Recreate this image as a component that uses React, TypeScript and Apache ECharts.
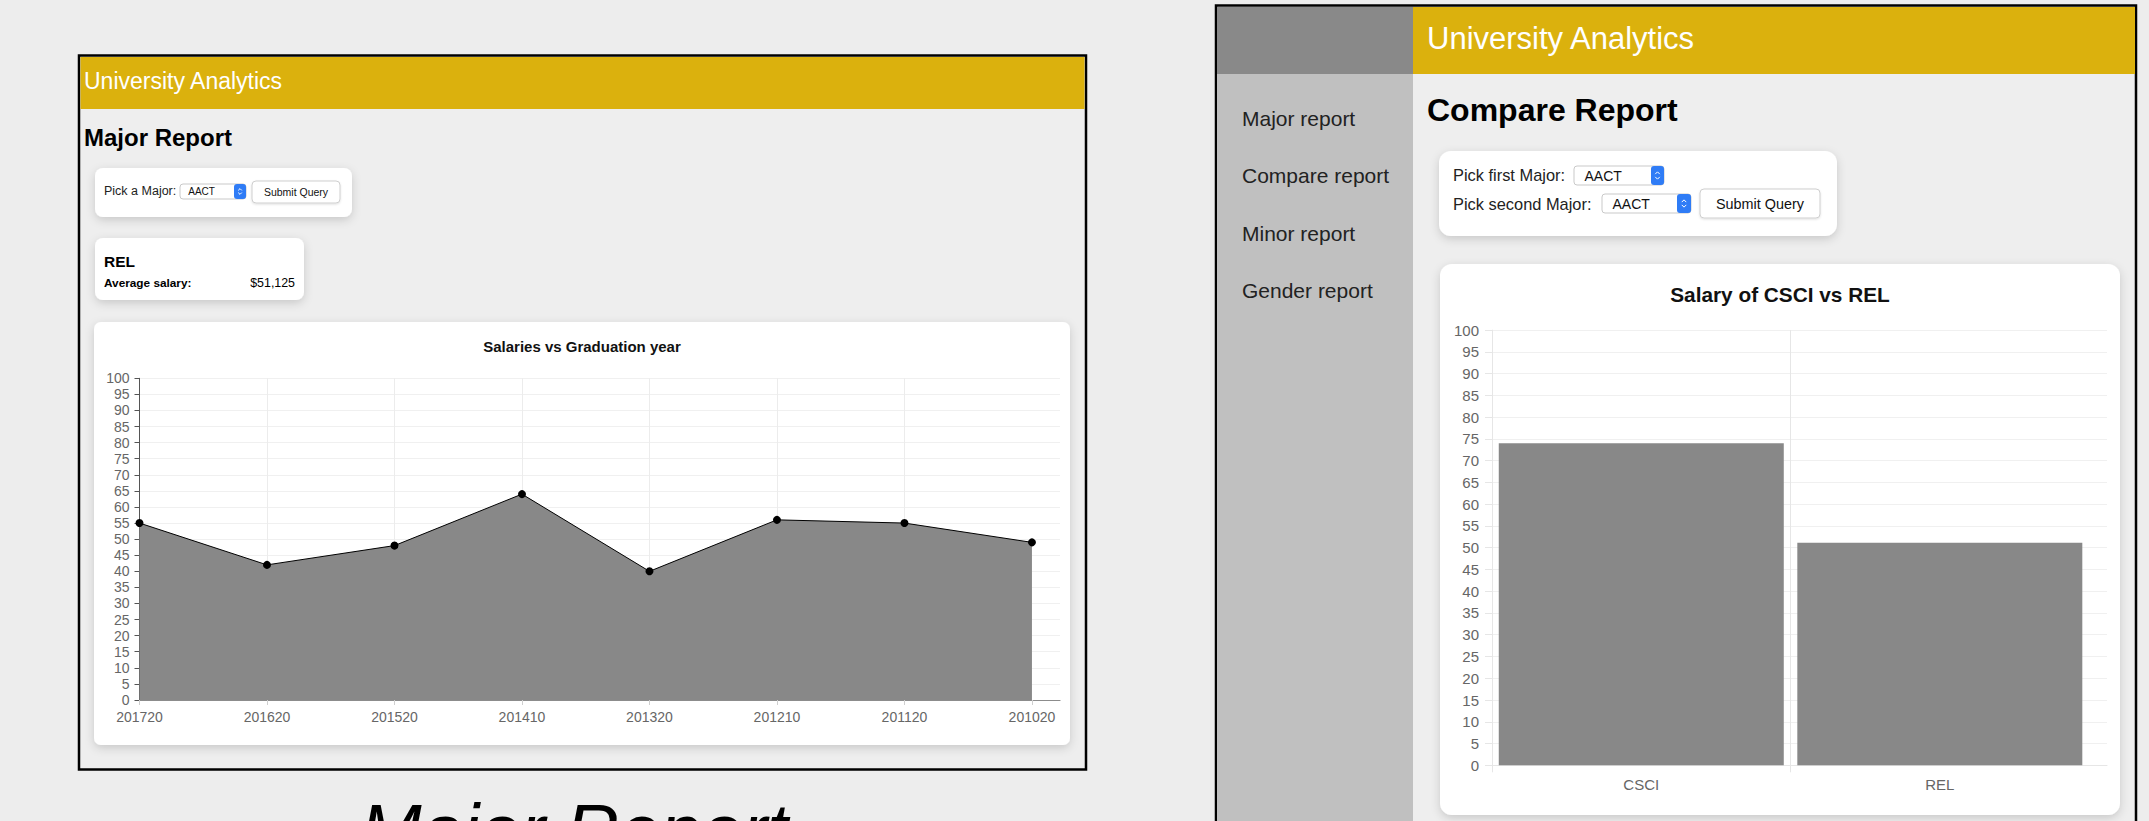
import React, { useEffect, useRef } from 'react';
import * as echarts from 'echarts';

// ---- data ----
const majorYears = ['201720', '201620', '201520', '201410', '201320', '201210', '201120', '201020'];
const majorSalaries = [55, 42, 48, 64, 40, 56, 55, 49];
const compareMajors = ['CSCI', 'REL'];
const compareSalaries = [74, 51.125];
const salaryAxisMax = 100;
const salaryAxisStep = 5;
const sidebarItems = ['Major report', 'Compare report', 'Minor report', 'Gender report'];
const selectedMajor = 'REL';
const pickerDefault = 'AACT';

const FF = '"Liberation Sans", Arial, Helvetica, sans-serif';

function txt(x: number, y: number, text: string, size: number, o: any = {}) {
  const align = o.align || 'left';
  return {
    type: 'text',
    x,
    y,
    z: 30,
    silent: true,
    style: {
      text,
      fontSize: size,
      fontFamily: FF,
      fontWeight: o.weight || 'normal',
      fontStyle: o.style || 'normal',
      fill: o.color || '#222',
      align,
      textAlign: align,
      verticalAlign: 'middle',
      textVerticalAlign: 'middle',
    },
  };
}

function rect(x: number, y: number, w: number, h: number, style: any, r = 0, z = -20) {
  return { type: 'rect', z, silent: true, shape: { x, y, width: w, height: h, r }, style };
}

function card(x: number, y: number, w: number, h: number, r: number) {
  return rect(x, y, w, h, {
    fill: '#ffffff',
    shadowBlur: 10,
    shadowOffsetY: 3,
    shadowColor: 'rgba(0,0,0,0.16)',
  }, r, -20);
}

function selectBox(x: number, y: number, w: number, h: number, bw: number, fs: number) {
  const bx = x + w - bw;
  const cx = bx + bw / 2;
  const cy = y + h / 2;
  const s = h * 0.12;
  return [
    rect(x, y, w, h, { fill: '#ffffff', stroke: '#c9c9c9', lineWidth: 1 }, 3, -10),
    rect(bx, y, bw, h, { fill: '#2f7cf6' }, 3, -9),
    { type: 'polyline', z: -8, silent: true, shape: { points: [[cx - s, cy - s * 0.6], [cx, cy - s * 1.6], [cx + s, cy - s * 0.6]] }, style: { stroke: '#fff', lineWidth: 1, fill: null } },
    { type: 'polyline', z: -8, silent: true, shape: { points: [[cx - s, cy + s * 0.6], [cx, cy + s * 1.6], [cx + s, cy + s * 0.6]] }, style: { stroke: '#fff', lineWidth: 1, fill: null } },
    txt(x + h * 0.55, cy, pickerDefault, fs, { color: '#111' }),
  ];
}

function button(x: number, y: number, w: number, h: number, fs: number) {
  return [
    rect(x, y, w, h, { fill: '#ffffff', stroke: '#cfcfcf', lineWidth: 1, shadowBlur: 2, shadowOffsetY: 1, shadowColor: 'rgba(0,0,0,0.12)' }, 4, -10),
    txt(x + w / 2, y + h / 2, 'Submit Query', fs, { align: 'center', color: '#111' }),
  ];
}

export default function App() {
  const ref = useRef<HTMLDivElement>(null);

  useEffect(() => {
    if (!ref.current) return;
    document.body.style.margin = '0';
    const chart = echarts.init(ref.current, undefined, { renderer: 'svg' });

    const avg = majorSalaries.reduce((a, b) => a + b, 0) / majorSalaries.length;
    const avgText = '$' + Math.round(avg * 1000).toLocaleString('en-US');

    const graphics: any[] = [
      // left panel
      rect(79, 55.5, 1007, 714, { fill: '#eeeeee', stroke: '#000', lineWidth: 2.5 }, 0, -30),
      rect(80.5, 57, 1004, 52, { fill: '#dbb10d' }, 0, -25),
      txt(84, 81, 'University Analytics', 23, { color: '#ffffff' }),
      txt(84, 137, 'Major Report', 24, { weight: 'bold', color: '#000' }),
      card(95, 168, 257, 49, 8),
      txt(104, 190.5, 'Pick a Major:', 12.5),
      ...selectBox(180, 184, 66, 15, 12, 10),
      ...button(252, 181, 88, 22, 10.5),
      card(95, 238, 209, 62, 8),
      txt(104, 261, selectedMajor, 15.5, { weight: 'bold', color: '#000' }),
      txt(104, 283, 'Average salary:', 11.8, { weight: 'bold', color: '#000' }),
      txt(295, 283, avgText, 12.4, { align: 'right', color: '#000' }),
      card(94, 322, 976, 423, 7),
      txt(582, 346, 'Salaries vs Graduation year', 15, { weight: 'bold', align: 'center', color: '#111' }),
      // caption
      txt(360, 830, 'Major Report', 74, { style: 'italic', color: '#000' }),
      // right panel
      rect(1216, 5.5, 920, 900, { fill: '#eeeeee', stroke: '#000', lineWidth: 2.5 }, 0, -30),
      rect(1217, 7, 196, 67, { fill: '#898989' }, 0, -25),
      rect(1217, 74, 196, 760, { fill: '#c0c0c0' }, 0, -25),
      rect(1413, 7, 722, 67, { fill: '#dbb10d' }, 0, -25),
      txt(1427, 38, 'University Analytics', 31, { color: '#ffffff' }),
      ...sidebarItems.map((s, i) => txt(1242, 118 + i * 57.5, s, 21, { color: '#222' })),
      txt(1427, 110, 'Compare Report', 32, { weight: 'bold', color: '#000' }),
      card(1439, 151, 398, 85, 12),
      txt(1453, 175, 'Pick first Major:', 16.4),
      ...selectBox(1574, 166, 90, 19, 13, 14),
      txt(1453, 203.5, 'Pick second Major:', 16.4),
      ...selectBox(1602, 194, 89, 19, 14, 14),
      ...button(1700, 189, 120, 29, 14.4),
      card(1440, 264, 680, 551, 12),
      txt(1780, 294, 'Salary of ' + compareMajors.join(' vs '), 20.8, { weight: 'bold', align: 'center', color: '#111' }),
    ];

    const majorIdx = majorYears.map((_, i) => i);
    const cmpIdx = compareMajors.map((_, i) => i);
    const dividerX = 0.5; // boundary between the two compared categories

    chart.setOption({
      animation: false,
      backgroundColor: '#ededed',
      graphic: { elements: graphics },
      grid: [
        { left: 139.5, top: 378.3, width: 920.5, height: 321.7, containLabel: false, outerBoundsMode: 'none' },
        { left: 1492, top: 330.1, width: 615, height: 435.2, containLabel: false, outerBoundsMode: 'none' },
      ],
      xAxis: [
        {
          type: 'value', gridIndex: 0, min: 0, max: 7.22, interval: 1,
          axisLine: { show: true, onZero: false, lineStyle: { color: '#8c8c8c', width: 1.2 } },
          axisTick: { show: true, length: 5, customValues: majorIdx, lineStyle: { color: '#cfcfcf' } },
          axisLabel: {
            customValues: majorIdx, fontSize: 14, color: '#666', fontFamily: FF, margin: 10,
            formatter: (v: number) => (Number.isInteger(v) && majorYears[v] !== undefined ? majorYears[v] : ''),
          },
          splitLine: { show: true, showMaxLine: false, lineStyle: { color: '#ececec', width: 1 } },
        },
        {
          type: 'value', gridIndex: 1, min: -0.5, max: 1.56, interval: 1,
          axisLine: { show: true, onZero: false, lineStyle: { color: '#e6e6e6', width: 1 } },
          axisTick: { show: true, length: 7, customValues: [-0.5, dividerX], lineStyle: { color: '#e6e6e6' } },
          axisLabel: {
            customValues: cmpIdx, fontSize: 15, color: '#666', fontFamily: FF, margin: 12,
            formatter: (v: number) => (Number.isInteger(v) && compareMajors[v] !== undefined ? compareMajors[v] : ''),
          },
          splitLine: { show: false },
        },
      ],
      yAxis: [
        {
          type: 'value', gridIndex: 0, min: 0, max: salaryAxisMax, interval: salaryAxisStep,
          axisLine: { show: true, onZero: false, lineStyle: { color: '#555', width: 1 } },
          axisTick: { show: true, length: 5, lineStyle: { color: '#555' } },
          axisLabel: { fontSize: 14, color: '#666', fontFamily: FF, margin: 10 },
          splitLine: { show: true, lineStyle: { color: '#f0f0f0', width: 1 } },
        },
        {
          type: 'value', gridIndex: 1, min: 0, max: salaryAxisMax, interval: salaryAxisStep,
          axisLine: { show: true, onZero: false, lineStyle: { color: '#e6e6e6', width: 1 } },
          axisTick: { show: true, length: 7, lineStyle: { color: '#e6e6e6' } },
          axisLabel: { fontSize: 15, color: '#666', fontFamily: FF, margin: 13 },
          splitLine: { show: true, lineStyle: { color: '#f0f0f0', width: 1 } },
        },
      ],
      series: [
        {
          type: 'line', xAxisIndex: 0, yAxisIndex: 0,
          data: majorSalaries.map((v, i) => [i, v]),
          symbol: 'circle', symbolSize: 8, showAllSymbol: true,
          itemStyle: { color: '#000' },
          lineStyle: { color: '#000', width: 1 },
          areaStyle: { color: '#888888', opacity: 1 },
          z: 3,
        },
        {
          type: 'line', xAxisIndex: 1, yAxisIndex: 1,
          data: [[dividerX, 0], [dividerX, salaryAxisMax]],
          symbol: 'none', silent: true,
          lineStyle: { color: '#e6e6e6', width: 1 },
          z: 1,
        },
        {
          type: 'bar', xAxisIndex: 1, yAxisIndex: 1,
          data: compareSalaries.map((v, i) => [i, v]),
          barWidth: 285,
          itemStyle: { color: '#888888' },
          z: 3,
        },
      ],
    });

    return () => chart.dispose();
  }, []);

  return <div ref={ref} style={{ position: 'fixed', left: 0, top: 0, width: 2149, height: 821 }} />;
}
